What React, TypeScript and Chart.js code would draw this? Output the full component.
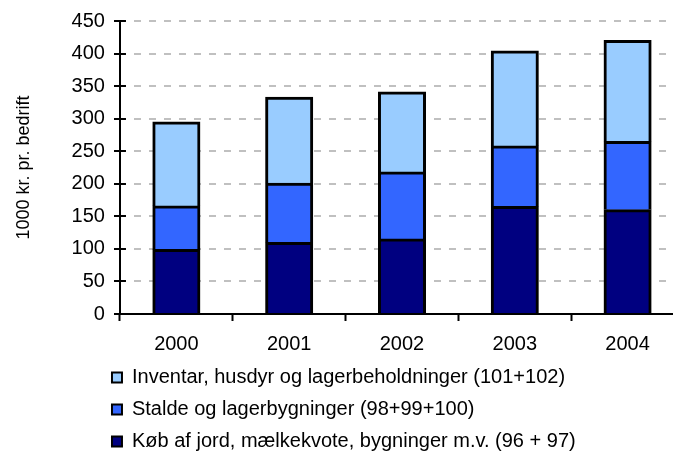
import React, { useEffect, useRef } from 'react';
import { Chart, registerables } from 'chart.js';

Chart.register(...registerables);

const categories = ['2000', '2001', '2002', '2003', '2004'];
const kobAfJord = [99, 110, 115, 165, 160];
const staldeOgLager = [67, 91, 103, 93, 105];
const inventarHusdyr = [129, 132, 123, 146, 155];
const seriesLabels = [
  'Køb af jord, mælkekvote, bygninger m.v. (96 + 97)',
  'Stalde og lagerbygninger (98+99+100)',
  'Inventar, husdyr og lagerbeholdninger (101+102)',
];
const seriesColors = ['#000080', '#3366FF', '#99CCFF'];
const yMin = 0;
const yMax = 450;
const yStep = 50;
const yAxisTitle = '1000 kr. pr. bedrift';

const innerTicks = {
  id: 'innerTicks',
  afterDatasetsDraw(chart: any) {
    const y = chart.scales.y;
    const ctx = chart.ctx;
    const left = chart.chartArea.left;
    ctx.save();
    ctx.strokeStyle = '#000';
    ctx.lineWidth = 2;
    ctx.beginPath();
    y.ticks.forEach((t: any) => {
      const py = Math.round(y.getPixelForValue(t.value));
      ctx.moveTo(left, py);
      ctx.lineTo(left + 6, py);
    });
    ctx.stroke();
    ctx.restore();
  },
};

const legendShift = {
  id: 'legendShift',
  afterLayout(chart: any) {
    const lg = chart.legend;
    if (lg) {
      lg.left = chart.chartArea.left - 20;
      lg.top = chart.chartArea.bottom + 41.5;
    }
  },
};

export default function App() {
  const ref = useRef<HTMLCanvasElement>(null);
  useEffect(() => {
    if (!ref.current) return;
    Chart.defaults.font.family = "'Liberation Sans', Arial, sans-serif";
    Chart.defaults.color = '#000';
    const data = [kobAfJord, staldeOgLager, inventarHusdyr];
    const defaultLabels = Chart.defaults.plugins.legend.labels.generateLabels;
    const chart = new Chart(ref.current, {
      type: 'bar',
      data: {
        labels: categories,
        datasets: data.map((d, i) => ({
          label: seriesLabels[i],
          data: d,
          backgroundColor: seriesColors[i],
          borderColor: '#000',
          borderWidth: 3,
          borderSkipped: 'start',
          inflateAmount: 0.5,
          barPercentage: 0.417,
          categoryPercentage: 1,
        })),
      },
      options: {
        animation: false,
        responsive: false,
        devicePixelRatio: 1,
        layout: { padding: { top: 21, right: 16, left: 0, bottom: 0 } },
        plugins: {
          tooltip: { enabled: false },
          legend: {
            position: 'bottom',
            align: 'start',
            reverse: true,
            labels: {
              boxWidth: 10,
              boxHeight: 10,
              padding: 12,
              color: '#000',
              font: { size: 20 },
              generateLabels: (c: any) =>
                defaultLabels(c).map((item: any) => ({ ...item, lineWidth: 2 })),
            },
          },
        },
        scales: {
          x: {
            stacked: true,
            grid: {
              display: true,
              drawOnChartArea: false,
              drawTicks: true,
              tickLength: 7,
              tickColor: '#000',
              tickWidth: 2,
              offset: true,
            },
            border: { color: '#000', width: 2 },
            ticks: { color: '#000', padding: 11, font: { size: 20 } },
          },
          y: {
            stacked: true,
            min: yMin,
            max: yMax,
            ticks: { stepSize: yStep, color: '#000', padding: 9, font: { size: 20 } },
            grid: {
              color: '#c0c0c0',
              lineWidth: 2,
              drawTicks: true,
              tickLength: 6,
              tickColor: '#000',
              tickWidth: 2,
            },
            border: { color: '#000', width: 2, dash: [7, 8], dashOffset: 2 },
            title: {
              display: true,
              text: yAxisTitle,
              color: '#000',
              font: { size: 18 },
              padding: { top: 13, bottom: 28 },
            },
          },
        },
      },
      plugins: [innerTicks, legendShift],
    });
    return () => chart.destroy();
  }, []);
  return (
    <div style={{ position: 'absolute', left: 0, top: 0, width: 673, height: 455, overflow: 'hidden', background: '#fff' }}>
      <canvas ref={ref} width={700} height={473} style={{ display: 'block', width: 700, height: 473 }} />
    </div>
  );
}
